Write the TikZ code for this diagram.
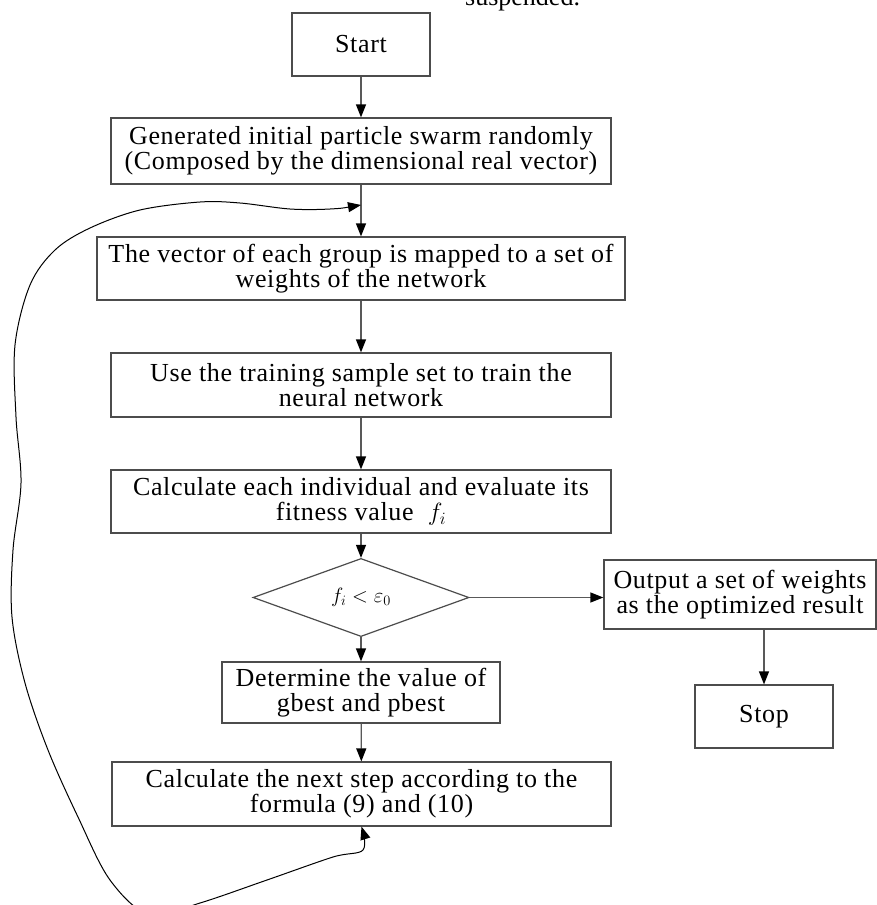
\documentclass[tikz,border=0pt]{standalone}
\usepackage{fontspec}
\setmainfont{Liberation Serif}
\newfontfamily\boxfont{Liberation Serif}[LetterSpace=2.5]
\usetikzlibrary{arrows.meta,shapes.geometric}
\begin{document}
\begin{tikzpicture}[x=1pt,y=-1pt,
  box/.style={draw=black!70,line width=1.2pt,fill=white,align=center,inner sep=0pt,
    font=\boxfont\fontsize{26}{25}\selectfont},
  dia/.style={diamond,draw=black!70,line width=1.2pt,fill=white,inner sep=0pt,
    font=\fontsize{20}{24}\selectfont},
  arr/.style={draw=black!65,line width=1.2pt,-{Triangle[length=13pt,width=10pt,color=black]}},
  loopline/.style={draw=black,line width=1pt,
    {Triangle[length=13pt,width=10pt,color=black]}-{Triangle[length=13pt,width=10pt,color=black]}}]
\useasboundingbox (0,0) rectangle (877,905);
\clip (0,0) rectangle (877,905);

\node[anchor=base west,inner sep=0pt,font=\fontsize{26}{24}\selectfont] (susp) at (465,5) {suspended.};

\node[box,minimum width=138pt,minimum height=63pt] (start) at (361,44.5) {Start};
\node[box,minimum width=500pt,minimum height=66pt] (gen) at (361,151)
  {Generated initial particle swarm randomly\\(Composed by the dimensional real vector)};
\node[box,minimum width=528pt,minimum height=63pt] (vec) at (361,268.5)
  {The vector of each group is mapped to a set of\\weights of the network};
\node[box,minimum width=500pt,minimum height=64pt] (train) at (361,385)
  {Use the training sample set to train the\\neural network};
\node[box,minimum width=500pt,minimum height=63pt] (calc) at (361,501.5)
  {Calculate each individual and evaluate its\\fitness value \ $f_i$};
\node[dia,minimum width=216pt,minimum height=63pt] (dec) at (361,597.5) {$f_i<\varepsilon_0$};
\node[box,minimum width=272pt,minimum height=69pt] (out) at (740,594.5)
  {Output a set of weights\\as the optimized result};
\node[box,minimum width=138pt,minimum height=63pt] (stop) at (764,716.5) {Stop};
\node[box,minimum width=278pt,minimum height=61pt] (det) at (361,692.5)
  {Determine the value of\\gbest and pbest};
\node[box,minimum width=499pt,minimum height=64pt] (next) at (361.5,794)
  {Calculate the next step according to the\\formula (9) and (10)};

\coordinate (j) at (361,205);

\draw[arr] (start) -- (gen);
\draw[arr] (gen) -- (vec);
\draw[arr] (vec) -- (train);
\draw[arr] (train) -- (calc);
\draw[arr] (calc) -- (dec);
\draw[arr] (dec) -- (det);
\draw[arr] (det) -- (next);
\draw[arr] (dec.east) -- (dec.east -| out.west);
\draw[arr] (stop.north |- out.south) -- (stop.north);

\draw[loopline] plot[smooth,tension=0.55] coordinates {(j) (330,209) (290,209) (240,203) (200,202)
  (140,210) (90,228) (55,250) (30,285) (15,345) (16,417) (21,483) (13,550) (12,617)
  (25,683) (48,750) (78,817) (110,880) (150,915) (200,903) (267,880) (333,857) (363,850) (next.south)};
\end{tikzpicture}
\end{document}
